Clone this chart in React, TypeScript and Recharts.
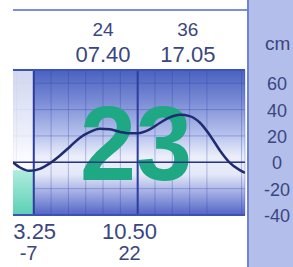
import { LineChart, Line, XAxis, YAxis, CartesianGrid, ReferenceLine, ReferenceArea } from "recharts";

// tide curve, x = grid cells (1 cell per hour on the display), y = cm
const hours = [-1.2, -0.8, -0.25, 0.35, 0.9, 1.5, 2.1, 2.65, 3.25, 3.8, 4.4, 5.0, 5.5, 6.0, 6.7, 7.3, 7.85, 8.45, 9.0, 9.6, 10.2, 10.75, 11.3, 11.9, 12.2];
const levels = [0, -4, -6.5, -5, -1, 5, 12, 18.5, 23, 25.5, 25, 23, 22, 22, 25, 30, 34, 36, 35, 30, 20, 9, 0, -6, -8];

const highPos = [4.0, 8.9];
const highTimes = ["07.40", "17.05"];
const highLevels = ["24", "36"];

const lowPos = [-0.3, 5.53];
const lowTimes = ["03.25", "10.50"];
const lowLevels = ["-7", "22"];

const cmTicks = [60, 40, 20, 0, -20, -40];
const gridHours = [-1, 0, 1, 2, 3, 4, 5, 6, 7, 8, 9, 10, 11, 12];
const gridCm = [-30, -20, -10, 0, 10, 20, 30, 40, 50, 60];
const mainLines = [0, 6];
const dayNumber = "23";

const data = hours.map((t, i) => ({ t, cm: levels[i] }));
const xDomain = [-1.2, 12.2];
const yDomain = [-40, 70];

const FONT = "'Liberation Sans', Arial, sans-serif";
const INK = "#3a4680";

function TopTick(props: any) {
  const { x, y, payload } = props;
  const i = highPos.indexOf(payload.value);
  if (i < 0) return null;
  return (
    <g fontFamily={FONT} fill={INK} textAnchor="middle">
      <text x={x} y={y - 34} fontSize={19}>{highLevels[i]}</text>
      <text x={x} y={y - 8} fontSize={22}>{highTimes[i]}</text>
    </g>
  );
}

function BottomTick(props: any) {
  const { x, y, payload } = props;
  const i = lowPos.indexOf(payload.value);
  if (i < 0) return null;
  return (
    <g fontFamily={FONT} fill={INK} textAnchor="middle">
      <text x={x} y={y + 24} fontSize={22}>{lowTimes[i]}</text>
      <text x={x} y={y + 45} fontSize={20}>{lowLevels[i]}</text>
    </g>
  );
}

function CmTick(props: any) {
  const { x, y, payload } = props;
  return (
    <text x={x + 32} y={y + 7} fontFamily={FONT} fontSize={18} fill={INK} textAnchor="middle">
      {payload.value}
    </text>
  );
}

function DayShape(props: any) {
  const { x, y, width, height } = props;
  return (
    <text
      x={x + width * 0.53}
      y={y + height * 0.76}
      fontFamily={FONT}
      fontWeight="bold"
      fontSize={106}
      fill="#1fa884"
      textAnchor="middle"
      textLength={112}
      lengthAdjust="spacingAndGlyphs"
    >
      {dayNumber}
    </text>
  );
}

export default function App() {
  return (
    <div style={{ position: "absolute", left: 0, top: 0, width: 293, height: 267, background: "#fff", overflow: "hidden" }}>
      <svg width={0} height={0} style={{ position: "absolute" }}>
        <defs>
          <linearGradient id="plotBg" x1="0" y1="0" x2="0" y2="1">
            <stop offset="0" stopColor="#4a62c0" />
            <stop offset="0.2" stopColor="#7688d4" />
            <stop offset="0.45" stopColor="#b8c3ec" />
            <stop offset="0.6" stopColor="#eceffa" />
            <stop offset="0.72" stopColor="#e4e8f8" />
            <stop offset="0.86" stopColor="#9aa6e0" />
            <stop offset="1" stopColor="#5364c6" />
          </linearGradient>
          <linearGradient id="greenBg" x1="0" y1="0" x2="0" y2="1">
            <stop offset="0" stopColor="#a8eadb" />
            <stop offset="1" stopColor="#4fcfae" />
          </linearGradient>
        </defs>
      </svg>
      <div style={{ position: "absolute", left: 247, top: 0, width: 46, height: 267, background: "#b3bfea", borderLeft: "2px solid #7083d2" }} />
      <div style={{ position: "absolute", left: 13, top: 9, width: 234, height: 2, background: "#7d8fd8" }} />
      <div style={{ position: "absolute", left: 265, top: 33, fontFamily: FONT, fontSize: 19, color: INK }}>cm</div>
      <div style={{ position: "absolute", left: 0, top: 0 }}>
        <LineChart width={293} height={267} data={data} margin={{ top: 10, right: 0, bottom: 0, left: 13 }}>
          <XAxis dataKey="t" type="number" domain={xDomain} ticks={gridHours} allowDataOverflow height={0} hide />
          <XAxis
            xAxisId="top"
            dataKey="t"
            orientation="top"
            type="number"
            domain={xDomain}
            ticks={highPos}
            allowDataOverflow
            height={60}
            axisLine={false}
            tickLine={false}
            tickSize={0}
            tickMargin={0}
            tick={<TopTick />}
            interval={0}
          />
          <XAxis
            xAxisId="bottom"
            dataKey="t"
            orientation="bottom"
            type="number"
            domain={xDomain}
            ticks={lowPos}
            allowDataOverflow
            height={52}
            axisLine={false}
            tickLine={false}
            tickSize={0}
            tickMargin={0}
            tick={<BottomTick />}
            interval={0}
          />
          <YAxis type="number" domain={yDomain} ticks={gridCm} allowDataOverflow width={0} hide />
          <YAxis
            yAxisId="cm"
            orientation="right"
            type="number"
            domain={yDomain}
            ticks={cmTicks}
            allowDataOverflow
            width={48}
            axisLine={false}
            tickLine={false}
            tickSize={0}
            tickMargin={0}
            tick={<CmTick />}
            interval={0}
          />
          <CartesianGrid fill="url(#plotBg)" fillOpacity={1} stroke="rgba(40,60,170,0.3)" strokeWidth={1} />
          <ReferenceArea x1={-1.2} x2={0} y1={-40} y2={70} fill="#ffffff" fillOpacity={0.75} stroke="none" />
          <ReferenceArea x1={-1.2} x2={0} y1={-40} y2={-6} fill="url(#greenBg)" fillOpacity={0.9} stroke="none" />
          <ReferenceArea x1={-1.2} x2={12.2} y1={-40} y2={70} fillOpacity={0} stroke="none" shape={<DayShape />} />
          {mainLines.map((h) => (
            <ReferenceLine key={h} x={h} stroke="#2d3e9e" strokeWidth={2} />
          ))}
          <ReferenceLine y={0} stroke="#2a3580" strokeWidth={1.5} />
          <ReferenceLine y={70} stroke="#3d52b6" strokeWidth={2} />
          <ReferenceLine y={-40} stroke="#3d52b6" strokeWidth={2} />
          <Line type="monotone" dataKey="cm" stroke="#1f2c72" strokeWidth={2.5} dot={false} isAnimationActive={false} />
        </LineChart>
      </div>
      <div style={{ position: "absolute", left: 0, top: 0, width: 13, height: 267, background: "#fff" }} />
    </div>
  );
}
